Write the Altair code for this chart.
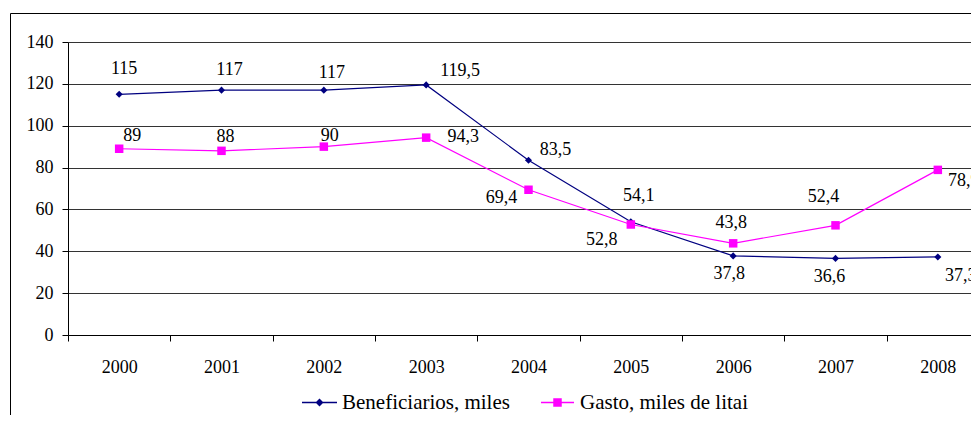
import altair as alt
import pandas as pd

years = ["2000", "2001", "2002", "2003", "2004", "2005", "2006", "2007", "2008"]
beneficiarios = [115, 117, 117, 119.5, 83.5, 54.1, 37.8, 36.6, 37.3]
gasto = [89, 88, 90, 94.3, 69.4, 52.8, 43.8, 52.4, 78.9]
series_names = ["Beneficiarios, miles", "Gasto, miles de litai"]
series_colors = ["#000080", "#FF00FF"]
y_ticks = [0, 20, 40, 60, 80, 100, 120, 140]


def fmt(v):
    return (str(int(v)) if float(v).is_integer() else str(v)).replace(".", ",")


rows = []
for name, vals in zip(series_names, [beneficiarios, gasto]):
    for yr, v in zip(years, vals):
        rows.append({"year": yr, "series": name, "value": v, "label": fmt(v)})
df = pd.DataFrame(rows)

# label placement offsets (style only, px)
label_offsets = {
    "Beneficiarios, miles": [(5, -25), (8, -20), (8, -17), (34, -14), (27, -10),
                             (8, -26), (-4, 18), (-6, 19), (23, 19)],
    "Gasto, miles de litai": [(13, -13), (4, -14), (6, -11), (37, -1), (-27, 8),
                              (-29, 16), (-2, -20), (-12, -28), (26, 11)],
}

FONT = "'Liberation Serif', 'Times New Roman', Tinos, 'DejaVu Serif', serif"
FS = 18
LEG_FS = 21
FULL_W = 921   # full band range (extends beyond the visible window)
PLOT_W = 903   # visible part of the plot area
PLOT_H = 293

x_enc = alt.X("year:N", sort=years, title=None,
              scale=alt.Scale(domain=years, paddingInner=0, paddingOuter=0, range=[0, FULL_W]),
              axis=alt.Axis(tickBand="extent", labelAngle=0, tickSize=6, labelPadding=17,
                            labelFont=FONT, labelFontSize=FS, labelColor="black",
                            domainColor="black", tickColor="black", grid=False))
y_enc = alt.Y("value:Q", title=None,
              scale=alt.Scale(domain=[0, 140], nice=False),
              axis=alt.Axis(values=y_ticks, tickSize=6, labelPadding=9,
                            labelFont=FONT, labelFontSize=FS, labelColor="black",
                            domainColor="black", tickColor="black",
                            grid=True, gridColor="#333333", gridWidth=1))
color_scale = alt.Scale(domain=series_names, range=series_colors)

base = alt.Chart(df)

lines = base.mark_line(strokeWidth=1.2).encode(
    x=x_enc, y=y_enc,
    color=alt.Color("series:N", scale=color_scale, legend=None),
)

pts_b = base.transform_filter(alt.datum.series == series_names[0]).mark_point(
    shape="diamond", filled=True, size=50, opacity=1).encode(
    x=x_enc, y=y_enc, color=alt.Color("series:N", scale=color_scale, legend=None))

pts_g = base.transform_filter(alt.datum.series == series_names[1]).mark_point(
    shape="square", filled=True, size=72, opacity=1).encode(
    x=x_enc, y=y_enc, color=alt.Color("series:N", scale=color_scale, legend=None))

text_layers = []
for name in series_names:
    for yr, (dx, dy) in zip(years, label_offsets[name]):
        text_layers.append(
            base.transform_filter((alt.datum.series == name) & (alt.datum.year == yr))
            .mark_text(font=FONT, fontSize=FS, color="black", align="center",
                       baseline="middle", dx=dx, dy=dy)
            .encode(x=x_enc, y=y_enc, text="label:N")
        )

# legend symbols: a line with the series marker on it (unit box, size 100 -> r = 5 px)
legend_paths = [
    "M-3.5,-0.15H3.5V0.15H-3.5Z M0,-0.8L0.8,0L0,0.8L-0.8,0Z",
    "M-3.3,-0.15H3.3V0.15H-3.3Z M-0.85,-0.85H0.85V0.85H-0.85Z",
]
legend_x = [241, 479]
legend_layers = []
for name, col, path, lx in zip(series_names, series_colors, legend_paths, legend_x):
    legend_layers.append(
        alt.Chart(df).transform_filter("false").mark_point(filled=True, size=100, opacity=1)
        .encode(fill=alt.Fill("series:N", scale=alt.Scale(domain=[name], range=[col]),
                              legend=alt.Legend(title=None, orient="none", legendX=lx, legendY=350,
                                                symbolType=path, labelLimit=400,
                                                labelFont=FONT, labelFontSize=LEG_FS,
                                                labelColor="black", labelOffset=12)))
    )

frame = alt.Chart(alt.InlineData(values=[{"a": 1}])).mark_rect(
    fill=None, stroke="black", strokeWidth=1).encode(
    x=alt.value(-57.5), x2=alt.value(FULL_W + 40), y=alt.value(-28.5), y2=alt.value(PLOT_H + 110))

chart = alt.layer(frame, lines, pts_b, pts_g, *text_layers, *legend_layers).resolve_scale(
    fill="independent").resolve_legend(fill="independent").properties(
    width=PLOT_W, height=PLOT_H,
    autosize=alt.AutoSizeParams(type="none"),
    padding={"left": 60, "top": 34, "right": 0, "bottom": 80},
).configure_view(fill="#C0C0C0", stroke="black", strokeWidth=1).configure(background="white")

chart.save("out.html", embed_options={"renderer": "svg", "actions": False})
